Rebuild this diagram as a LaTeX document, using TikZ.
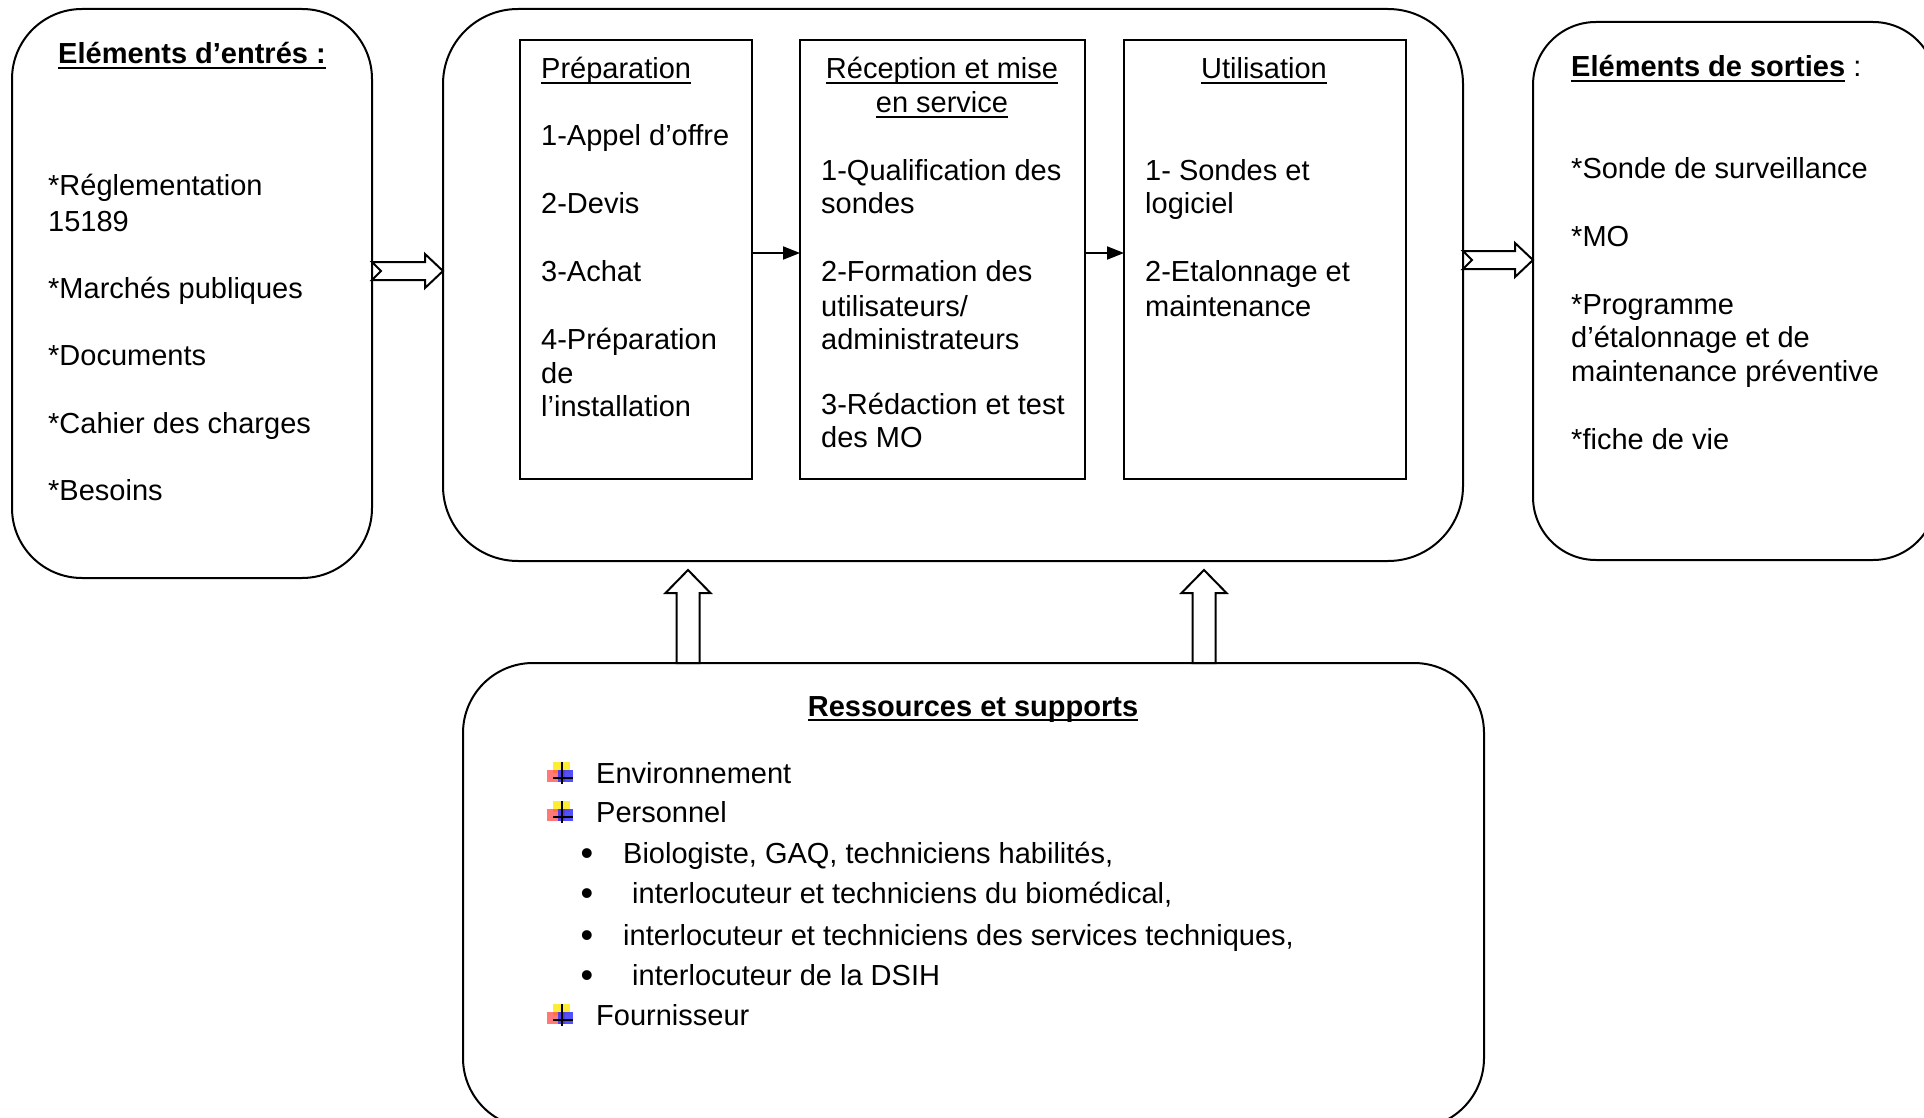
\documentclass[tikz,border=0pt]{standalone}
\usepackage{fontspec}
\setmainfont{Liberation Sans}
\usetikzlibrary{arrows.meta,calc}
\newcommand{\souligne}[1]{\setbox0\hbox{#1}\leavevmode\rlap{\rule[-5pt]{\wd0}{2pt}}\box0}

\begin{document}
\begin{tikzpicture}[x=1pt,y=-1pt,font=\fontsize{29}{34}\selectfont,
rbox/.style={draw,line width=2pt,rounded corners=#1,anchor=north west,inner sep=0pt,outer sep=0pt},rbox/.default=70pt,
pbox/.style={draw,line width=1.5pt,anchor=north west,inner sep=0pt,outer sep=0pt,minimum height=439pt},
txt/.style={anchor=base west,inner sep=0pt},
ttl/.style={anchor=base,inner sep=0pt},
hollow/.style={draw,line width=2pt,line join=miter,fill=white},
flow/.style={line width=2pt,-{Triangle[length=17pt,width=13pt]}},
icon/.pic={
   \fill[yellow!90!orange,opacity=.8] (-8,-11) rectangle (9,0);
   \fill[red!75,opacity=.7] (-14,-3) rectangle (4,9);
   \fill[blue!80,opacity=.85] (-3,-3) rectangle (12,9);
   \draw[line width=1.5pt] (1,-11) -- (1,11) (-8,5) -- (12,5);}]
\useasboundingbox (0,0) rectangle (1924,1118);
\node[rbox,minimum width=360pt,minimum height=569pt] (entrees) at (12,9) {};
\node[rbox=75pt,minimum width=1020pt,minimum height=552pt] (process) at (443,9) {};
\node[rbox=63pt,minimum width=403pt,minimum height=538pt] (sorties) at (1533,22) {};
\node[rbox,minimum width=1021pt,minimum height=465pt] (ressources) at (463,663) {};
\node[pbox,minimum width=232pt] (prep) at (520,40) {};
\node[pbox,minimum width=285pt] (recep) at (800,40) {};
\node[pbox,minimum width=282pt] (util) at (1124,40) {};
% entrees
\node[ttl] (tentrees) at (192,64) {\textbf{\souligne{Eléments d’entrés :}}};
\foreach \y/\t [count=\i] in %
{196/*Réglementation,231/15189,298/*Marchés publiques,365/*Documents,433/*Cahier des charges,500/*Besoins} {
   \node[txt] (e\i) at (48,\y) {\t};
}
% etapes
\node[txt] (tprep) at (541,79) {\souligne{Préparation}};
\foreach \y/\t [count=\i] in %
{146/1-Appel d’offre,214/2-Devis,281/3-Achat,349/4-Préparation,383/de,416/l’installation} {
   \node[txt] (p\i) at (541,\y) {\t};
}
\node[ttl] (trecep) at (942,79) {\souligne{Réception et mise}};
\node[ttl] (trecepb) at (942,113) {\souligne{en service}};
\foreach \y/\t [count=\i] in %
{181/1-Qualification des,214/sondes,281/2-Formation des,316/{utilisateurs/},349/administrateurs,414/3-Rédaction et test,447/des MO} {
   \node[txt] (m\i) at (821,\y) {\t};
}
\node[ttl] (tutil) at (1264,79) {\souligne{Utilisation}};
\foreach \y/\t [count=\i] in %
{181/1- Sondes et,214/logiciel,281/2-Etalonnage et,316/maintenance} {
   \node[txt] (u\i) at (1145,\y) {\t};
}
% sorties
\node[txt] (tsorties) at (1571,77) {\textbf{\souligne{Eléments de sorties}} :};
\foreach \y/\t [count=\i] in %
{179/*Sonde de surveillance,246/*MO,314/*Programme,347/d’étalonnage et de,381/maintenance préventive,449/*fiche de vie} {
   \node[txt] (s\i) at (1571,\y) {\t};
}
% ressources
\node[ttl] (tressources) at (973,716) {\textbf{\souligne{Ressources et supports}}};
\foreach \y/\t [count=\i] in %
{783/Environnement,822/Personnel,1025/Fournisseur} {
   \pic (ic\i) at (561,\y-10) {icon};
   \node[txt] (r\i) at (596,\y) {\t};
}
\foreach \y/\t/\xx [count=\i] in %
{863/{Biologiste, GAQ, techniciens habilités,}/623,903/{interlocuteur et techniciens du biomédical,}/632,
 945/{interlocuteur et techniciens des services techniques,}/623,985/{interlocuteur de la DSIH}/632} {
   \node[ttl,font=\fontsize{36}{36}\selectfont] (d\i) at (587,\y+2) {•};
   \node[txt] (b\i) at (\xx,\y) {\t};
}
% fleches
\draw[flow] (prep.east |- 0,253) -- (recep.west |- 0,253);
\draw[flow] (recep.east |- 0,253) -- (util.west |- 0,253);
\foreach \src/\dst/\hh in {entrees/process/271,process/sorties/260}
   \draw[hollow] let \p1=(\src.east |- 0,\hh), \p2=(\dst.west |- 0,\hh) in
   (\x1,{\y1+9pt}) -- ({\x2-18pt},{\y1+9pt}) -- ({\x2-18pt},{\y1+17pt}) -- (\x2,\y1)
   -- ({\x2-18pt},{\y1-17pt}) -- ({\x2-18pt},{\y1-9pt}) -- (\x1,{\y1-9pt}) -- ({\x1+9pt},\y1) -- cycle;
\foreach \c in {688,1204}
   \draw[hollow] let \p1=(\c,0 |- ressources.north), \p2=(\c,0 |- process.south) in
   ({\x1-11.5pt},\y1) -- ({\x1-11.5pt},{\y2-32pt}) -- ({\x1-22.5pt},{\y2-32pt}) -- (\x1,{\y2-9pt})
   -- ({\x1+22.5pt},{\y2-32pt}) -- ({\x1+11.5pt},{\y2-32pt}) -- ({\x1+11.5pt},\y1) -- cycle;
\end{tikzpicture}
\end{document}
